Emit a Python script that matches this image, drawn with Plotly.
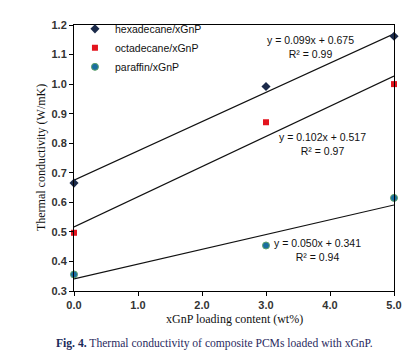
import plotly.graph_objects as go

loading = [0.0, 3.0, 5.0]
hexadecane = [0.665, 0.992, 1.162]
octadecane = [0.497, 0.871, 1.000]
paraffin = [0.356, 0.454, 0.615]

series_names = ["hexadecane/xGnP", "octadecane/xGnP", "paraffin/xGnP"]
slopes = [0.099, 0.102, 0.050]
intercepts = [0.675, 0.517, 0.341]
r2 = [0.99, 0.97, 0.94]
eq_pos_x = [3.69, 3.88, 3.80]
eq_pos_y = [1.124, 0.796, 0.44]

x_ticks = [0, 1, 2, 3, 4, 5]
y_ticks = [0.3, 0.4, 0.5, 0.6, 0.7, 0.8, 0.9, 1.0, 1.1, 1.2]

fig = go.Figure()

# trend lines
for s, b in zip(slopes, intercepts):
    fig.add_trace(go.Scatter(x=[0, 5], y=[b, b + 5 * s], mode="lines",
                             line=dict(color="#111111", width=1.2),
                             showlegend=False, hoverinfo="skip"))

markers = [
    dict(symbol="diamond", size=7, color="#1B2A4A", line=dict(width=0)),
    dict(symbol="square", size=6, color="#E3141E", line=dict(width=0)),
    dict(symbol="circle", size=7, color="#1A6EA0", line=dict(width=1, color="#5FA36A")),
]
for name, ys, m in zip(series_names, [hexadecane, octadecane, paraffin], markers):
    fig.add_trace(go.Scatter(x=loading, y=ys, mode="markers", name=name,
                             marker=m, cliponaxis=False))

for s, b, r, ex, ey in zip(slopes, intercepts, r2, eq_pos_x, eq_pos_y):
    fig.add_annotation(x=ex, y=ey, xref="x", yref="y", showarrow=False,
                       text=f"y = {s:.3f}x + {b:.3f}<br>R² = {r:.2f}",
                       font=dict(family="Liberation Sans", size=10.5, color="#111111"),
                       align="center")

fig.add_annotation(x=-0.131, y=0.5, xref="paper", yref="paper", showarrow=False,
                   text="Thermal conductivity (W/mK)", textangle=-90,
                   font=dict(family="Liberation Serif", size=12, color="#111111"))
fig.add_annotation(x=0.5, y=-0.14, xref="paper", yref="paper", showarrow=False,
                   text="xGnP loading content (wt%)",
                   font=dict(family="Liberation Serif", size=12, color="#111111"))
fig.add_annotation(x=0.4375, y=-0.228, xref="paper", yref="paper", showarrow=False,
                   text="<b>Fig. 4.</b> <span style='color:#2A2A60'>Thermal conductivity of composite PCMs loaded with xGnP.</span>",
                   font=dict(family="Liberation Serif", size=11.6, color="#1A2A5A"))

fig.update_xaxes(range=[0, 5], tickvals=x_ticks, ticktext=[f"<b>{v:.1f}</b>" for v in x_ticks],
                 showline=True, linecolor="black", linewidth=1, mirror=True,
                 ticks="outside", ticklen=4, tickcolor="black", showgrid=False, zeroline=False,
                 tickfont=dict(family="Liberation Sans", size=11, color="#333333"))
fig.update_yaxes(range=[0.3, 1.2], tickvals=y_ticks, ticktext=[f"<b>{v:.1f}</b>" for v in y_ticks],
                 showline=True, linecolor="black", linewidth=1, mirror=True,
                 ticks="outside", ticklen=4, tickcolor="black", showgrid=False, zeroline=False,
                 tickfont=dict(family="Liberation Sans", size=11, color="#333333"))

fig.update_layout(
    width=416, height=360,
    margin=dict(l=66, r=30, t=17, b=77, autoexpand=False),
    paper_bgcolor="white", plot_bgcolor="white",
    showlegend=True,
    legend=dict(x=0.003, y=1.04, xanchor="left", yanchor="top",
                bgcolor="rgba(0,0,0,0)", tracegroupgap=0,
                font=dict(family="Liberation Sans", size=10.5, color="#111111"),
                itemwidth=30),
)

fig.write_html("out.html")
